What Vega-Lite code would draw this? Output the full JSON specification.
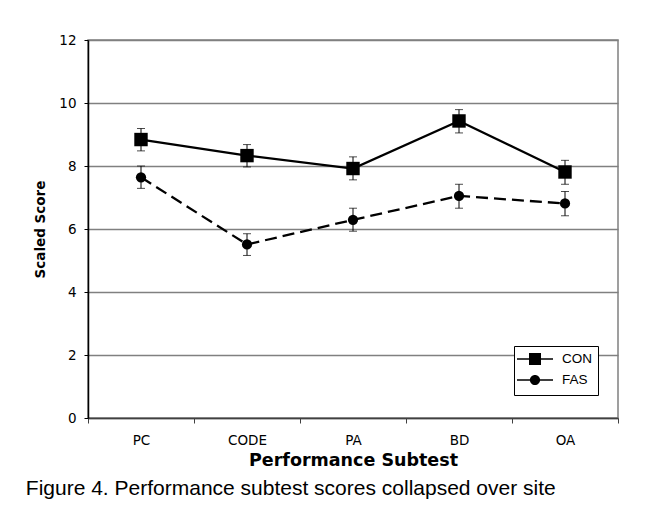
{
  "$schema": "https://vega.github.io/schema/vega-lite/v6.json",
  "width": 530,
  "height": 378,
  "autosize": "none",
  "padding": {"left": 88, "top": 40, "right": 27, "bottom": 96},
  "background": "white",
  "config": {
    "view": {"stroke": "#808080", "strokeWidth": 1.5},
    "axis": {"labelFont": "DejaVu Sans", "labelFontSize": 13.5, "labelColor": "black", "titleFont": "DejaVu Sans", "titleColor": "black", "titleFontWeight": "bold"}
  },
  "title": {
    "text": "Figure 4. Performance subtest scores collapsed over site",
    "orient": "bottom",
    "anchor": "start",
    "frame": "bounds",
    "font": "Liberation Sans",
    "fontSize": 21,
    "fontWeight": "normal",
    "color": "black",
    "offset": 9,
    "dx": -8
  },
  "data": {
    "values": [
      {"subtest": "PC", "group": "CON", "score": 8.84, "lo": 8.48, "hi": 9.19},
      {"subtest": "CODE", "group": "CON", "score": 8.33, "lo": 7.97, "hi": 8.68},
      {"subtest": "PA", "group": "CON", "score": 7.92, "lo": 7.56, "hi": 8.29},
      {"subtest": "BD", "group": "CON", "score": 9.43, "lo": 9.05, "hi": 9.79},
      {"subtest": "OA", "group": "CON", "score": 7.81, "lo": 7.42, "hi": 8.18},
      {"subtest": "PC", "group": "FAS", "score": 7.64, "lo": 7.29, "hi": 8.0},
      {"subtest": "CODE", "group": "FAS", "score": 5.51, "lo": 5.16, "hi": 5.85},
      {"subtest": "PA", "group": "FAS", "score": 6.29, "lo": 5.93, "hi": 6.66},
      {"subtest": "BD", "group": "FAS", "score": 7.05, "lo": 6.66, "hi": 7.42},
      {"subtest": "OA", "group": "FAS", "score": 6.81, "lo": 6.42, "hi": 7.19}
    ]
  },
  "encoding": {
    "x": {
      "field": "subtest",
      "type": "nominal",
      "sort": ["PC", "CODE", "PA", "BD", "OA"],
      "scale": {"paddingInner": 0, "paddingOuter": 0},
      "axis": {
        "title": "Performance Subtest",
        "titleFontSize": 17.5,
        "titlePadding": 5,
        "labelAngle": 0,
        "labelPadding": 10,
        "tickBand": "extent",
        "tickSize": 5,
        "tickColor": "#404040",
        "domainColor": "#404040",
        "domainWidth": 1.5
      }
    }
  },
  "layer": [
    {
      "mark": {"type": "rule", "color": "black", "strokeWidth": 1},
      "encoding": {
        "y": {
          "field": "lo",
          "type": "quantitative",
          "scale": {"domain": [0, 12], "nice": false},
          "axis": {
            "title": "Scaled Score",
            "titleFontSize": 13.5,
            "titlePadding": 11,
            "values": [0, 2, 4, 6, 8, 10, 12],
            "grid": true,
            "gridColor": "#808080",
            "gridWidth": 1.5,
            "tickSize": 4,
            "tickColor": "black",
            "domainColor": "black",
            "domainWidth": 1.5,
            "labelPadding": 8
          }
        },
        "y2": {"field": "hi"}
      }
    },
    {
      "mark": {"type": "tick", "color": "black", "thickness": 1, "size": 8, "orient": "horizontal"},
      "encoding": {"y": {"field": "lo", "type": "quantitative"}}
    },
    {
      "mark": {"type": "tick", "color": "black", "thickness": 1, "size": 8, "orient": "horizontal"},
      "encoding": {"y": {"field": "hi", "type": "quantitative"}}
    },
    {
      "transform": [{"filter": "datum.group === 'CON'"}],
      "mark": {"type": "line", "color": "black", "strokeWidth": 2.3},
      "encoding": {"y": {"field": "score", "type": "quantitative"}}
    },
    {
      "transform": [{"filter": "datum.group === 'FAS'"}],
      "mark": {"type": "line", "color": "black", "strokeWidth": 2.3, "strokeDash": [12, 6]},
      "encoding": {"y": {"field": "score", "type": "quantitative"}}
    },
    {
      "transform": [{"filter": "datum.group === 'CON'"}],
      "mark": {"type": "point", "shape": "square", "filled": true, "color": "black", "opacity": 1, "size": 180},
      "encoding": {"y": {"field": "score", "type": "quantitative"}}
    },
    {
      "transform": [{"filter": "datum.group === 'FAS'"}],
      "mark": {"type": "point", "shape": "circle", "filled": true, "color": "black", "opacity": 1, "size": 105},
      "encoding": {"y": {"field": "score", "type": "quantitative"}}
    },
    {
      "mark": {"type": "point", "filled": true, "color": "black", "opacity": 0, "size": 144},
      "encoding": {
        "y": {"field": "score", "type": "quantitative"},
        "shape": {
          "field": "group",
          "type": "nominal",
          "scale": {
            "domain": ["CON", "FAS"],
            "range": [
              "M-3,-0.13L3,-0.13L3,0.13L-3,0.13ZM-1,-1L1,-1L1,1L-1,1Z",
              "M-3,-0.13L3,-0.13L3,0.13L-3,0.13ZM-0.85,0A0.85,0.85,0,1,1,0.85,0A0.85,0.85,0,1,1,-0.85,0Z"
            ]
          },
          "legend": {
            "title": null,
            "orient": "none",
            "legendX": 426,
            "legendY": 306,
            "symbolSize": 144,
            "symbolOffset": 8,
            "labelOffset": 20,
            "labelFont": "Liberation Sans",
            "labelFontSize": 13.5,
            "labelColor": "black",
            "rowPadding": 3,
            "padding": 6,
            "strokeColor": "black",
            "fillColor": "white",
            "cornerRadius": 0,
            "encode": {
              "symbols": {
                "update": {
                  "fill": {"value": "black"},
                  "stroke": {"value": "black"},
                  "strokeWidth": {"value": 0.5},
                  "opacity": {"value": 1},
                  "fillOpacity": {"value": 1},
                  "strokeOpacity": {"value": 1}
                }
              }
            }
          }
        }
      }
    }
  ]
}
